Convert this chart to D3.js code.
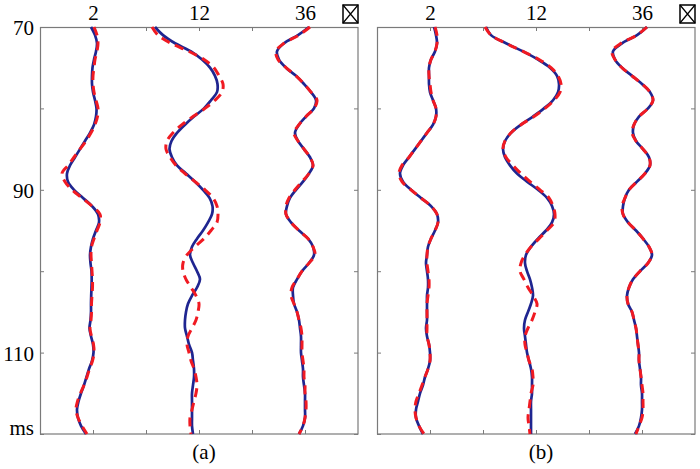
<!DOCTYPE html>
<html>
<head>
<meta charset="utf-8">
<script src="https://cdnjs.cloudflare.com/ajax/libs/d3/7.8.5/d3.min.js"></script>
<style>
  body { margin: 0; background: #fff; }
</style>
</head>
<body>
<div id="chart"></div>
<script>
// sample times (ms), one per trace sample
const times = [70, 71, 72, 73, 74, 75, 76, 77, 78, 79, 80, 81, 82, 83, 84, 85, 86, 87, 88, 89,
  90, 91, 92, 93, 94, 95, 96, 97, 98, 99, 100, 101, 102, 103, 104, 105, 106, 107, 108, 109,
  110, 111, 112, 113, 114, 115, 116, 117, 118, 119, 120];

const traceNames = ["2", "12", "36"];
const traceSlots = [1, 3, 5];
const xTicks = [1, 2, 3, 4, 5];
const xTickLabels = ["2", "", "12", "", "36"];
const yTicks = [70, 80, 90, 100, 110, 120];
const yTickLabels = ["70", "", "90", "", "110", "ms"];
const panelLabels = ["(a)", "(b)"];

// amplitude units per trace slot
const ampPerSlot = 53;

// panel (a) - solid blue traces
const blueA2 = [-2, 2, 4, 3, 1, -0.5, -1, -1, 0, 2, 3.5, 3, 1, -3, -8, -13, -18, -23, -26, -25,
  -19, -10, -1, 5, 6, 3, 0, -2, -3, -2.5, -1.5, -1.3, -1.5, -1.8, -2, -2, -2.5, -3.5, -2, 0,
  0.5, -1, -4, -6.5, -9, -12, -14.5, -16, -15, -12, -7];
const blueA12 = [-44, -36, -24, -8, 3, 11, 16, 18.5, 18, 12, 5, -5, -14, -22, -27.5, -29.5, -27, -22, -13, -4,
  4, 10.5, 13.5, 13, 9, 4, -2, -7, -9, -6, -2, 1, -2, -7, -11, -13, -14, -14, -12, -10,
  -7, -6, -5, -5, -6, -7, -7, -7, -7, -7, -6];
const blueA36 = [4, -7, -21, -28, -26, -19, -9, -1, 6, 11, 9, 1, -6, -10, -7, -1, 5, 8, 4, -2,
  -9, -15, -18, -19, -14, -6, 3, 8, 9, 4, -3, -8, -12, -12, -11, -8, -6, -5, -4, -4,
  -4, -3, -2, -2, -1, 0, 0, 0, 0, -2, -6];

// panel (a) - dashed red traces
const redA2 = [1, 4, 5, 4, 2, 1, 0, 0, 1, 3, 5, 4.5, 2, -2, -7, -13, -19, -25, -31, -28,
  -21, -11, -1, 7, 7, 4, 1, -1.5, -2, -1.5, -1, -0.5, -0.5, -1, -1.5, -1.5, -2, -3, -1.5, 0.5,
  1, -0.5, -3.5, -6, -9, -12.5, -15.5, -17, -15, -11, -6];
const redA12 = [-47, -41, -28, -10, 5, 15, 20, 24, 23, 16, 6, -6, -17, -26, -32, -33, -29, -23, -14, -4,
  6, 14, 18, 19, 18, 12, 5, -4, -12, -16, -16, -13, -8, -3, 0, -1, -3, -7, -11, -12,
  -10, -8, -5, -3, -2, -3, -5, -7, -9, -9, -8];
const redA36 = [5, -6, -21, -29, -27, -19, -9, -1, 6, 12, 9, 1, -6, -11, -7, -1, 5, 8, 4, -3,
  -10, -16, -19, -19, -14, -6, 3, 8, 10, 4, -3, -8, -13, -14, -11, -8, -6, -4, -3, -3,
  -3, -2, -1, -1, 0, 0, 1, 1, 0, -2, -6];

// panel (b) - solid blue traces
const blueB2 = [4, 6, 7, 5, 1, -1, -1, -1, 0, 3, 6, 6, 3, -3, -9, -15, -21, -27, -30, -27,
  -19, -9, 1, 7, 8, 5, 1, -2, -3, -4, -3, -2, -2, -3, -3, -3, -3, -4, -3, -1,
  0, 0, -2, -5, -7, -10, -12, -14, -14, -11, -7];
const blueB12 = [-50, -45, -30, -13, 2, 14, 21, 23, 22, 17, 8, -3, -15, -25, -31, -33, -31, -26, -19, -9,
  2, 11, 16, 18, 16, 10, 2, -5, -10, -11, -9, -6, -4, -3, -5, -8, -11, -12, -11, -10,
  -9, -7, -5, -4, -4, -4, -5, -5, -5, -5, -5];
const blueB36 = [5, -5, -20, -29, -27, -20, -10, 0, 8, 11, 6, -3, -8, -9, -6, 1, 7, 8, 3, -5,
  -13, -17, -19, -19, -14, -6, 1, 7, 10, 6, -2, -9, -13, -15, -14, -10, -8, -6, -5, -4,
  -3, -3, -2, -1, -1, 0, 0, 0, -1, -3, -7];

// panel (b) - dashed red traces
const redB2 = [5, 7, 7, 5, 1, -1, -1, 0, 1, 3, 6, 6, 3, -3, -9, -15, -21, -28, -31, -28,
  -19, -9, 1, 7, 8, 5, 1, -2, -3, -3, -2, -1, -1, -2, -3, -3, -3, -3, -3, -1,
  0, 0, -2, -5, -8, -11, -14, -15, -14, -11, -6];
const redB12 = [-51, -45, -30, -13, 3, 15, 22, 25, 24, 18, 9, -2, -15, -25, -31, -33, -30, -23, -15, -6,
  4, 13, 17, 19, 18, 11, 3, -5, -11, -15, -16, -12, -8, -3, 1, -1, -4, -8, -11, -11,
  -9, -7, -4, -3, -3, -5, -6, -7, -8, -7, -6];
const redB36 = [5, -5, -21, -30, -27, -20, -10, 0, 8, 11, 6, -3, -8, -10, -6, 1, 7, 8, 3, -5,
  -13, -17, -20, -19, -14, -6, 1, 7, 10, 6, -2, -9, -13, -15, -14, -10, -8, -6, -5, -4,
  -3, -3, -2, -1, 0, 1, 1, 1, 0, -3, -6];

const panels = [
  { label: panelLabels[0], left: 40, yLabels: true, blue: [blueA2, blueA12, blueA36], red: [redA2, redA12, redA36] },
  { label: panelLabels[1], left: 377, yLabels: false, blue: [blueB2, blueB12, blueB36], red: [redB2, redB12, redB36] }
];

const width = 700, height = 469;
const plotTop = 27, pw = 318, ph = 407;
const font = "Liberation Serif";

const svg = d3.select("#chart").append("svg")
  .attr("width", width)
  .attr("height", height);

const x = d3.scaleLinear().domain([0, 6]).range([0, pw]);
const y = d3.scaleLinear().domain([70, 120]).range([0, ph]);

panels.forEach(p => {
  const g = svg.append("g").attr("transform", `translate(${p.left},${plotTop})`);

  // axes, ticks pointing inward
  const leftAxis = d3.axisLeft(y).tickValues(yTicks).tickSize(-4).tickSizeOuter(0).tickPadding(6)
    .tickFormat((d, i) => p.yLabels ? yTickLabels[i] : "");
  const rightAxis = d3.axisRight(y).tickValues(yTicks).tickSize(-4).tickSizeOuter(0).tickFormat("");
  const topAxis = d3.axisTop(x).tickValues(xTicks).tickSize(-4).tickSizeOuter(0).tickPadding(7)
    .tickFormat((d, i) => xTickLabels[i]);
  const bottomAxis = d3.axisBottom(x).tickValues(xTicks).tickSize(-4).tickSizeOuter(0).tickFormat("");

  const gl = g.append("g").call(leftAxis);
  g.append("g").attr("transform", `translate(${pw},0)`).call(rightAxis);
  g.append("g").call(topAxis);
  g.append("g").attr("transform", `translate(0,${ph})`).call(bottomAxis);

  g.selectAll(".domain").remove();
  g.selectAll(".tick line").attr("stroke", "#7a7a7a").attr("stroke-width", 1);
  g.selectAll(".tick text")
    .attr("font-family", font)
    .attr("font-size", 21)
    .attr("fill", "#000");
  gl.selectAll(".tick text").attr("dy", (d, i) => yTickLabels[i] === "ms" ? "0em" : "0.38em");

  // frame
  g.append("rect")
    .attr("x", 0.5).attr("y", 0.5)
    .attr("width", pw - 0.5).attr("height", ph - 0.5)
    .attr("fill", "none")
    .attr("stroke", "#7a7a7a")
    .attr("stroke-width", 1.2);

  // the boxed cross symbol at top right
  const box = g.append("g").attr("transform", `translate(${pw - 15},-22)`);
  box.append("rect").attr("x", 0).attr("y", 0).attr("width", 15).attr("height", 18)
    .attr("fill", "none").attr("stroke", "#000").attr("stroke-width", 1.5);
  box.append("path").attr("d", "M0,0L15,18M15,0L0,18")
    .attr("stroke", "#000").attr("stroke-width", 1.2);

  // traces
  traceSlots.forEach((slot, k) => {
    const line = d3.line()
      .x(d => x(slot + d / ampPerSlot))
      .y((d, i) => y(times[i]))
      .curve(d3.curveCatmullRom);

    g.append("path")
      .attr("d", line(p.blue[k]))
      .attr("fill", "none")
      .attr("stroke", "#1f2590")
      .attr("stroke-width", 2.7);

    g.append("path")
      .attr("d", line(p.red[k]))
      .attr("fill", "none")
      .attr("stroke", "#f01a22")
      .attr("stroke-width", 3)
      .attr("stroke-dasharray", "9,6");
  });

  // panel caption
  g.append("text")
    .attr("x", x(3) + 5)
    .attr("y", ph + 25)
    .attr("text-anchor", "middle")
    .attr("font-family", font)
    .attr("font-size", 21)
    .attr("fill", "#000")
    .text(p.label);
});
</script>
</body>
</html>
